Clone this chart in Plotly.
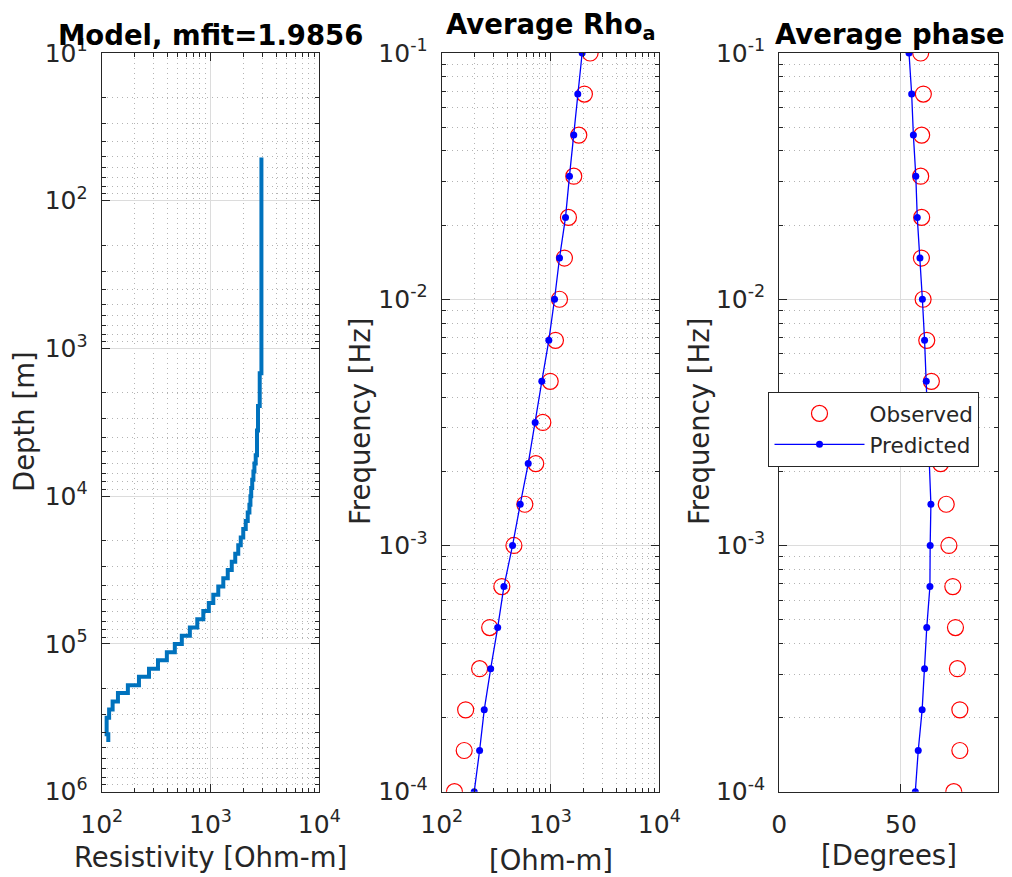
import plotly.graph_objects as go

# ---------------- data ----------------
# layered model (left panel): layer top depths [m] (last value = bottom of last layer)
depth_m = [51, 1470, 1670, 1900, 2150, 2450, 2780, 3160, 3590, 4080, 4640, 5280,
           6000, 6810, 7740, 8800, 10000, 11400, 12900, 14700, 16700, 19000,
           21500, 24500, 27800, 31600, 35900, 40800, 46400, 52800, 59900, 68100,
           77400, 88000, 100000, 114000, 129000, 147000, 167000, 190000, 215000,
           245000, 278000, 316000, 359000, 408000, 460000]
model_rho = [2938, 2834, 2834, 2834, 2834, 2734, 2734, 2734, 2677, 2677, 2677,
             2603, 2533, 2480, 2418, 2367, 2328, 2279, 2199, 2108, 2000, 1897,
             1799, 1688, 1568, 1441, 1311, 1179, 1061, 965, 859, 756, 646, 545,
             470, 397, 329, 272, 220, 174, 141, 126, 117, 111, 111, 115]

freq_hz = [0.1, 0.0681, 0.0464, 0.0316, 0.0215, 0.0147, 0.01, 0.00681, 0.00464,
           0.00316, 0.00215, 0.00147, 0.001, 0.000681, 0.000464, 0.000316,
           0.000215, 0.000147, 0.0001]
rho_obs = [2313, 2050, 1820, 1636, 1462, 1343, 1210, 1111, 994, 850, 732, 581,
           461, 357, 276, 223, 166, 161, 131]
rho_pred = [1954, 1781, 1636, 1494, 1374, 1210, 1089, 965, 832, 723, 624, 527,
            448, 373, 327, 282, 246, 223, 199]
phase_obs = [58.1, 59.2, 58.5, 58.1, 58.5, 58.4, 59.1, 60.6, 62.5, 64.0, 66.3,
             68.6, 69.7, 71.3, 72.4, 73.2, 74.2, 74.2, 71.7]
phase_pred = [53.3, 54.4, 55.1, 56.1, 56.7, 57.8, 58.8, 59.7, 60.4, 61.2, 61.8,
              62.3, 62.0, 61.9, 60.6, 59.7, 58.7, 57.1, 55.9]

depth_ticks = [1e1, 1e2, 1e3, 1e4, 1e5, 1e6]
depth_ticktext = ["10<sup>1</sup>", "10<sup>2</sup>", "10<sup>3</sup>",
                  "10<sup>4</sup>", "10<sup>5</sup>", "10<sup>6</sup>"]
res_ticks = [1e2, 1e3, 1e4]
res_ticktext = ["10<sup>2</sup>", "10<sup>3</sup>", "10<sup>4</sup>"]
freq_ticks = [1e-4, 1e-3, 1e-2, 1e-1]
freq_ticktext = ["10<sup>-4</sup>", "10<sup>-3</sup>", "10<sup>-2</sup>", "10<sup>-1</sup>"]
phase_ticks = [0, 50]
phase_ticktext = ["0", "50"]

# ---------------- style ----------------
W, H = 1012, 877
FONT = "DejaVu Sans"
AXC = "#262626"
TICK_FS = 25
LABEL_FS = 27.5

def px_x(p):
    return p / W

def px_y(p):
    return 1 - p / H

YDOM = [px_y(791.7), px_y(53)]

def base_axis(**kw):
    d = dict(showline=True, mirror="allticks", linecolor=AXC, linewidth=1.2,
             ticks="inside", ticklen=8, tickwidth=1.2, tickcolor=AXC,
             showgrid=True, gridcolor="#dcdcdc", gridwidth=1, zeroline=False,
             automargin=False,
             tickfont=dict(family=FONT, size=TICK_FS, color=AXC))
    d.update(kw)
    return d

def log_minor():
    return dict(dtick="D1", ticks="inside", ticklen=4, tickwidth=1, tickcolor=AXC,
                showgrid=True, gridcolor="#b4b4b4", gridwidth=1, griddash="1px,4px")

fig = go.Figure()

# left panel: model
fig.add_trace(go.Scatter(x=model_rho + [model_rho[-1]], y=depth_m, mode="lines",
                         line=dict(color="#0072BD", width=4, shape="vh"),
                         showlegend=False, xaxis="x", yaxis="y"))

# middle panel: apparent resistivity
fig.add_trace(go.Scatter(x=rho_obs, y=freq_hz, mode="markers",
                         marker=dict(symbol="circle-open", size=16, color="#FF0000",
                                     line=dict(width=1.2, color="#FF0000")),
                         showlegend=False, xaxis="x2", yaxis="y2"))
fig.add_trace(go.Scatter(x=rho_pred, y=freq_hz, mode="lines+markers",
                         line=dict(color="#0000FF", width=1.3),
                         marker=dict(symbol="circle", size=7, color="#0000FF"),
                         showlegend=False, xaxis="x2", yaxis="y2"))

# right panel: phase
fig.add_trace(go.Scatter(x=phase_obs, y=freq_hz, mode="markers", name="Observed",
                         marker=dict(symbol="circle-open", size=16, color="#FF0000",
                                     line=dict(width=1.2, color="#FF0000")),
                         xaxis="x3", yaxis="y3"))
fig.add_trace(go.Scatter(x=phase_pred, y=freq_hz, mode="lines+markers", name="Predicted",
                         line=dict(color="#0000FF", width=1.3),
                         marker=dict(symbol="circle", size=7, color="#0000FF"),
                         xaxis="x3", yaxis="y3"))

fig.update_layout(
    width=W, height=H,
    margin=dict(l=0, r=0, t=0, b=0, pad=0, autoexpand=False),
    paper_bgcolor="white", plot_bgcolor="white",
    font=dict(family=FONT, color=AXC),
    xaxis=base_axis(type="log", range=[2, 4], domain=[px_x(101.7), px_x(319.3)],
                    anchor="y", tickmode="array", tickvals=res_ticks,
                    ticktext=res_ticktext, minor=log_minor(), ticklabelstandoff=10),
    yaxis=base_axis(type="log", range=[6, 1], domain=YDOM, anchor="x",
                    tickmode="array", tickvals=depth_ticks, ticktext=depth_ticktext,
                    minor=log_minor(), ticklabelstandoff=8),
    xaxis2=base_axis(type="log", range=[2, 4], domain=[px_x(441.7), px_x(659.3)],
                     anchor="y2", tickmode="array", tickvals=res_ticks,
                     ticktext=res_ticktext, minor=log_minor(), ticklabelstandoff=10),
    yaxis2=base_axis(type="log", range=[-4, -1], domain=YDOM, anchor="x2",
                     tickmode="array", tickvals=freq_ticks, ticktext=freq_ticktext,
                     minor=log_minor(), ticklabelstandoff=8),
    xaxis3=base_axis(type="linear", range=[0, 90], domain=[px_x(779.3), px_x(998.3)],
                     anchor="y3", tickmode="array", tickvals=phase_ticks,
                     ticktext=phase_ticktext, ticklabelstandoff=10),
    yaxis3=base_axis(type="log", range=[-4, -1], domain=YDOM, anchor="x3",
                     tickmode="array", tickvals=freq_ticks, ticktext=freq_ticktext,
                     minor=log_minor(), ticklabelstandoff=8),
    legend=dict(x=px_x(768.3), y=px_y(391.7), xanchor="left", yanchor="top",
                bgcolor="white", bordercolor=AXC, borderwidth=1.2,
                font=dict(family=FONT, size=21.5, color=AXC), itemwidth=90,
                tracegroupgap=0),
)

annots = [
    # titles
    dict(text="<b>Model, mfit=1.9856</b>", x=px_x(210.7), y=px_y(34.5), size=LABEL_FS,
         color="black", angle=0),
    dict(text="<b>Average Rho<sub>a</sub></b>", x=px_x(550.5), y=px_y(26), size=LABEL_FS,
         color="black", angle=0),
    dict(text="<b>Average phase</b>", x=px_x(890), y=px_y(34), size=LABEL_FS,
         color="black", angle=0),
    # axis labels
    dict(text="Resistivity [Ohm-m]", x=px_x(210.5), y=px_y(857), size=LABEL_FS,
         color=AXC, angle=0),
    dict(text="[Ohm-m]", x=px_x(550.5), y=px_y(860), size=LABEL_FS, color=AXC, angle=0),
    dict(text="[Degrees]", x=px_x(888.8), y=px_y(855), size=LABEL_FS, color=AXC, angle=0),
    dict(text="Depth [m]", x=px_x(24), y=px_y(422), size=LABEL_FS, color=AXC, angle=-90),
    dict(text="Frequency [Hz]", x=px_x(360), y=px_y(422), size=LABEL_FS, color=AXC, angle=-90),
    dict(text="Frequency [Hz]", x=px_x(699), y=px_y(422), size=LABEL_FS, color=AXC, angle=-90),
]
for a in annots:
    fig.add_annotation(text=a["text"], x=a["x"], y=a["y"], xref="paper", yref="paper",
                       xanchor="center", yanchor="middle", showarrow=False,
                       textangle=a["angle"],
                       font=dict(family=FONT, size=a["size"], color=a["color"]))

fig.write_html("out.html")
